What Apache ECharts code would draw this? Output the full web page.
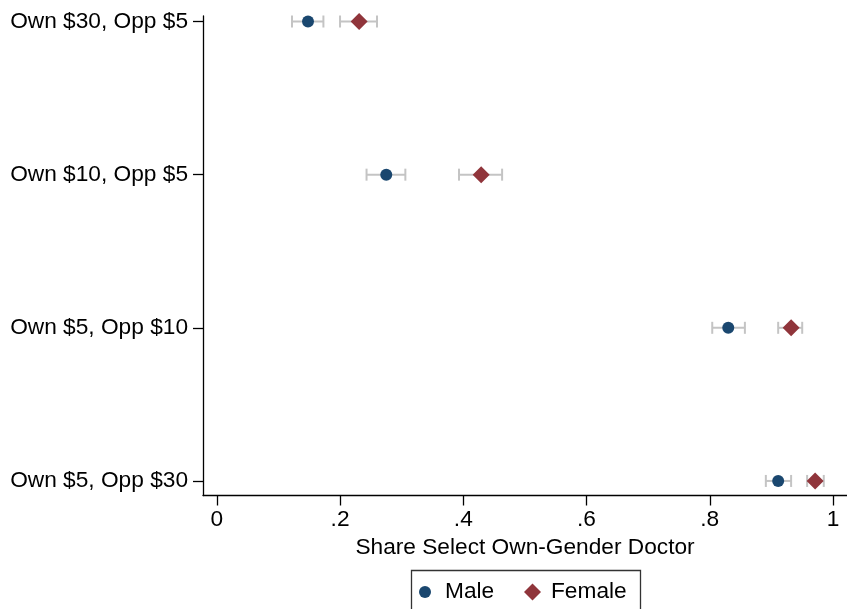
<!DOCTYPE html>
<html>
<head>
<meta charset="utf-8">
<script src="https://cdn.jsdelivr.net/npm/echarts@6/dist/echarts.min.js"></script>
<style>
html,body{margin:0;padding:0;background:#fff;}
#chart{width:847px;height:609px;}
</style>
</head>
<body>
<div id="chart"></div>
<script>
const categories = ['Own $30, Opp $5', 'Own $10, Opp $5', 'Own $5, Opp $10', 'Own $5, Opp $30'];
const maleMean = [0.148, 0.275, 0.830, 0.911];
const maleLo   = [0.122, 0.243, 0.804, 0.891];
const maleHi   = [0.173, 0.306, 0.857, 0.932];
const femaleMean = [0.231, 0.429, 0.932, 0.971];
const femaleLo   = [0.200, 0.393, 0.911, 0.958];
const femaleHi   = [0.260, 0.463, 0.950, 0.985];
const xTicks = [0, 0.2, 0.4, 0.6, 0.8, 1];
const xTickLabels = ['0', '.2', '.4', '.6', '.8', '1'];
const rowPos = [1, 2, 3, 4];

const FONT = 'Liberation Sans, Arial, Helvetica, sans-serif';
const FS = 22.7;
const MALE = '#1a476f', FEMALE = '#90353b', CI = '#c4c4c4';

const ciData = [];
for (let i = 0; i < categories.length; i++) {
  ciData.push([maleLo[i], maleHi[i], rowPos[i]]);
  ciData.push([femaleLo[i], femaleHi[i], rowPos[i]]);
}

function renderCI(params, api) {
  const lo = api.value(0), hi = api.value(1), r = api.value(2);
  const a = api.coord([lo, r]), b = api.coord([hi, r]);
  const h = 6;
  const st = { stroke: CI, lineWidth: 2, fill: null };
  return {
    type: 'group',
    children: [
      { type: 'line', shape: { x1: a[0], y1: a[1], x2: b[0], y2: b[1] }, style: st },
      { type: 'line', shape: { x1: a[0], y1: a[1] - h, x2: a[0], y2: a[1] + h }, style: st },
      { type: 'line', shape: { x1: b[0], y1: b[1] - h, x2: b[0], y2: b[1] + h }, style: st }
    ]
  };
}

const chart = echarts.init(document.getElementById('chart'), null, { renderer: 'canvas' });
chart.setOption({
  animation: false,
  backgroundColor: '#fff',
  textStyle: { fontFamily: FONT, color: '#000' },
  grid: { left: 203, right: 0, top: 16, bottom: 113.5, containLabel: false },
  xAxis: {
    type: 'value',
    min: -0.0224, max: 1.0227,
    name: 'Share Select Own-Gender Doctor',
    nameLocation: 'middle',
    nameGap: 38,
    nameTextStyle: { fontFamily: FONT, fontSize: FS, color: '#000' },
    axisLine: { show: true, onZero: false, lineStyle: { color: '#000', width: 1.3 } },
    axisTick: { show: true, length: 10, customValues: xTicks, lineStyle: { color: '#000', width: 1.3 } },
    axisLabel: {
      customValues: xTicks,
      margin: 13,
      fontFamily: FONT, fontSize: FS, color: '#000',
      formatter: function (v) {
        const i = xTicks.findIndex(t => Math.abs(t - v) < 1e-6);
        return i >= 0 ? xTickLabels[i] : '';
      }
    },
    splitLine: { show: false }
  },
  yAxis: {
    type: 'value',
    inverse: true,
    min: 0.964, max: 4.095,
    axisLine: { show: true, onZero: false, lineStyle: { color: '#000', width: 1.3 } },
    axisTick: { show: true, length: 10, customValues: rowPos, lineStyle: { color: '#000', width: 1.3 } },
    axisLabel: {
      customValues: rowPos,
      margin: 15,
      fontFamily: FONT, fontSize: FS, color: '#000',
      formatter: function (v) { return categories[Math.round(v) - 1] || ''; }
    },
    splitLine: { show: false }
  },
  legend: [
    {
      data: [{ name: 'Male', icon: 'circle' }],
      left: 419, top: 579,
      itemWidth: 12, itemHeight: 12,
      padding: 0,
      textStyle: { fontFamily: FONT, fontSize: FS, color: '#000', padding: [0, 0, 0, 9], lineHeight: 26 }
    },
    {
      data: [{ name: 'Female', icon: 'diamond' }],
      left: 524, top: 579,
      itemWidth: 17, itemHeight: 17,
      padding: 0,
      textStyle: { fontFamily: FONT, fontSize: FS, color: '#000', padding: [0, 0, 0, 5], lineHeight: 26 }
    }
  ],
  graphic: [
    {
      type: 'rect',
      shape: { x: 411.5, y: 570.5, width: 229, height: 50 },
      style: { fill: null, stroke: '#333', lineWidth: 1.3 },
      silent: true
    }
  ],
  series: [
    {
      type: 'custom',
      name: 'CI',
      renderItem: renderCI,
      data: ciData,
      encode: { x: [0, 1], y: 2 },
      z: 1,
      silent: true
    },
    {
      type: 'scatter',
      name: 'Male',
      symbol: 'circle',
      symbolSize: 12,
      itemStyle: { color: MALE, opacity: 1 },
      data: maleMean.map((v, i) => [v, rowPos[i]]),
      z: 3
    },
    {
      type: 'scatter',
      name: 'Female',
      symbol: 'diamond',
      symbolSize: 17,
      itemStyle: { color: FEMALE, opacity: 1 },
      data: femaleMean.map((v, i) => [v, rowPos[i]]),
      z: 3
    }
  ]
});
</script>
</body>
</html>
